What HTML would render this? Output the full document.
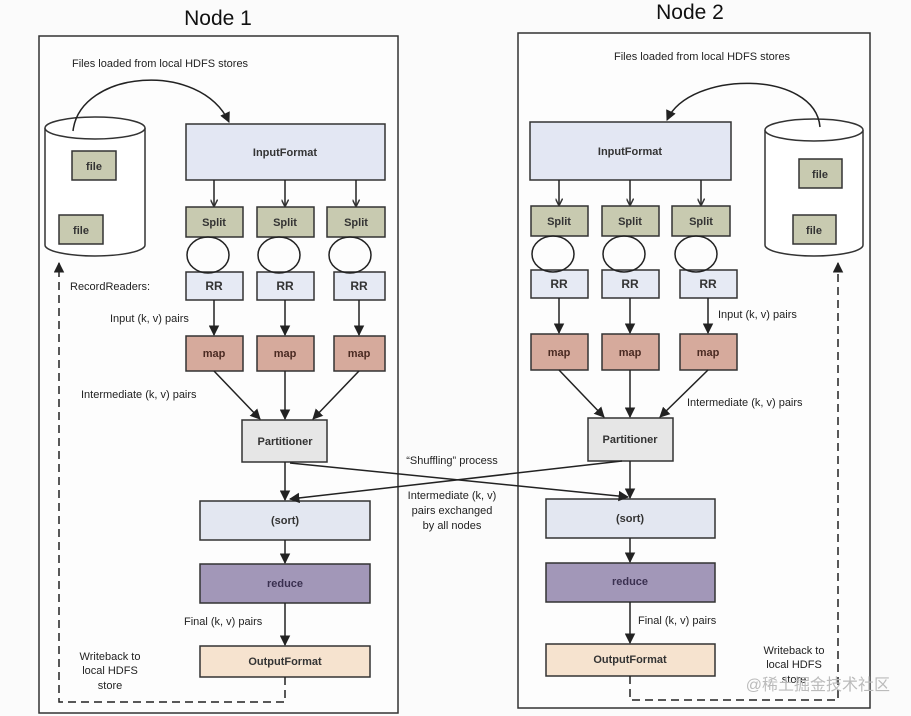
<!DOCTYPE html>
<html><head><meta charset="utf-8"><style>
html,body{margin:0;padding:0;background:#fbfbfb;}
svg{display:block;font-family:"Liberation Sans",sans-serif;}
</style></head><body>
<svg width="911" height="716" viewBox="0 0 911 716" xmlns="http://www.w3.org/2000/svg">
<defs>
<marker id="a" viewBox="0 0 10 10" refX="9" refY="5" markerWidth="7" markerHeight="7" orient="auto-start-reverse"><path d="M0,0 L10,5 L0,10 z" fill="#222"/></marker>
<marker id="s" viewBox="0 0 10 10" refX="9" refY="5" markerWidth="5" markerHeight="5" orient="auto"><path d="M0,0 L10,5 L0,10" fill="none" stroke="#333" stroke-width="2"/></marker>
</defs>
<rect width="911" height="716" fill="#fbfbfb"/>
<text x="218" y="25" font-size="21" text-anchor="middle" fill="#111">Node 1</text>
<text x="690" y="19" font-size="21" text-anchor="middle" fill="#111">Node 2</text>
<rect x="39" y="36" width="359" height="677" fill="#fdfdfd" stroke="#333" stroke-width="1.5"/>
<rect x="518" y="33" width="352" height="675" fill="#fdfdfd" stroke="#333" stroke-width="1.5"/>

<g font-size="11" fill="#222" stroke="none">
<text x="72" y="67">Files loaded from local HDFS stores</text>
<text x="614" y="60">Files loaded from local HDFS stores</text>
<text x="70" y="290">RecordReaders:</text>
<text x="110" y="322">Input (k, v) pairs</text>
<text x="81" y="398">Intermediate (k, v) pairs</text>
<text x="718" y="318">Input (k, v) pairs</text>
<text x="687" y="406">Intermediate (k, v) pairs</text>
<text x="452" y="464" text-anchor="middle">“Shuffling” process</text>
<text x="452" y="499" text-anchor="middle">Intermediate (k, v)</text>
<text x="452" y="514" text-anchor="middle">pairs exchanged</text>
<text x="452" y="529" text-anchor="middle">by all nodes</text>
<text x="184" y="625">Final (k, v) pairs</text>
<text x="638" y="624">Final (k, v) pairs</text>
<text x="110" y="660" text-anchor="middle">Writeback to</text>
<text x="110" y="674" text-anchor="middle">local HDFS</text>
<text x="110" y="689" text-anchor="middle">store</text>
<text x="794" y="654" text-anchor="middle">Writeback to</text>
<text x="794" y="668" text-anchor="middle">local HDFS</text>
<text x="794" y="683" text-anchor="middle">store</text>
</g>

<!-- cylinders -->
<g stroke="#333" stroke-width="1.5" fill="#fff">
<path d="M45,128 L45,245 A50,11 0 0 0 145,245 L145,128"/>
<ellipse cx="95" cy="128" rx="50" ry="11"/>
<path d="M765,130 L765,245 A49,11 0 0 0 863,245 L863,130"/>
<ellipse cx="814" cy="130" rx="49" ry="11"/>
</g>
<g stroke="#333" stroke-width="1.5" fill="#c8cab0" font-size="11" font-weight="bold">
<rect x="72" y="151" width="44" height="29"/><rect x="59" y="215" width="44" height="29"/>
<rect x="799" y="159" width="43" height="29"/><rect x="793" y="215" width="43" height="29"/>
</g>
<g font-size="11" font-weight="bold" fill="#333" text-anchor="middle">
<text x="94" y="170">file</text><text x="81" y="234">file</text>
<text x="820" y="178">file</text><text x="814" y="234">file</text>
</g>
<!-- arcs -->
<g fill="none" stroke="#222" stroke-width="1.5">
<path d="M73,131 C80,70 200,60 229,122" marker-end="url(#a)"/>
<path d="M820,127 C815,70 690,70 667,120" marker-end="url(#a)"/>
</g>

<!-- boxes -->
<g stroke="#333" stroke-width="1.5">
<rect x="186" y="124" width="199" height="56" fill="#e3e7f3"/>
<rect x="530" y="122" width="201" height="58" fill="#e3e7f3"/>
<g fill="#c8cab0">
<rect x="186" y="207" width="57" height="30"/><rect x="257" y="207" width="57" height="30"/><rect x="327" y="207" width="58" height="30"/>
<rect x="531" y="206" width="57" height="30"/><rect x="602" y="206" width="57" height="30"/><rect x="672" y="206" width="58" height="30"/>
</g>
<g fill="#e6eaf4">
<rect x="186" y="272" width="57" height="28"/><rect x="257" y="272" width="57" height="28"/><rect x="334" y="272" width="51" height="28"/>
<rect x="531" y="270" width="57" height="28"/><rect x="602" y="270" width="57" height="28"/><rect x="680" y="270" width="57" height="28"/>
</g>
<g fill="#d6aa9c">
<rect x="186" y="336" width="57" height="35"/><rect x="257" y="336" width="57" height="35"/><rect x="334" y="336" width="51" height="35"/>
<rect x="531" y="334" width="57" height="36"/><rect x="602" y="334" width="57" height="36"/><rect x="680" y="334" width="57" height="36"/>
</g>
<rect x="242" y="420" width="85" height="42" fill="#e6e6e6"/>
<rect x="588" y="418" width="85" height="43" fill="#e6e6e6"/>
<rect x="200" y="501" width="170" height="39" fill="#e3e7f1"/>
<rect x="546" y="499" width="169" height="39" fill="#e3e7f1"/>
<rect x="200" y="564" width="170" height="39" fill="#a297b8"/>
<rect x="546" y="563" width="169" height="39" fill="#a297b8"/>
<rect x="200" y="646" width="170" height="31" fill="#f6e3cf"/>
<rect x="546" y="644" width="169" height="32" fill="#f6e3cf"/>
</g>
<g font-size="11" font-weight="bold" fill="#333" text-anchor="middle">
<text x="285" y="156">InputFormat</text><text x="630" y="155">InputFormat</text>
<text x="214" y="226">Split</text><text x="285" y="226">Split</text><text x="356" y="226">Split</text>
<text x="559" y="225">Split</text><text x="630" y="225">Split</text><text x="701" y="225">Split</text>
<text x="214" y="290" font-size="12">RR</text><text x="285" y="290" font-size="12">RR</text><text x="359" y="290" font-size="12">RR</text>
<text x="559" y="288" font-size="12">RR</text><text x="630" y="288" font-size="12">RR</text><text x="708" y="288" font-size="12">RR</text>
<g fill="#4a2a22"><text x="214" y="357">map</text><text x="285" y="357">map</text><text x="359" y="357">map</text>
<text x="559" y="356">map</text><text x="630" y="356">map</text><text x="708" y="356">map</text></g>
<text x="285" y="445">Partitioner</text><text x="630" y="443">Partitioner</text>
<text x="285" y="524">(sort)</text><text x="630" y="522">(sort)</text>
<g fill="#3a3050"><text x="285" y="587">reduce</text><text x="630" y="585">reduce</text></g>
<text x="285" y="665">OutputFormat</text><text x="630" y="663">OutputFormat</text>
</g>

<!-- arrows -->
<g stroke="#222" stroke-width="1.5" fill="none">
<g marker-end="url(#s)">
<line x1="214" y1="180" x2="214" y2="206"/><line x1="285" y1="180" x2="285" y2="206"/><line x1="356" y1="180" x2="356" y2="206"/>
<line x1="559" y1="180" x2="559" y2="205"/><line x1="630" y1="180" x2="630" y2="205"/><line x1="701" y1="180" x2="701" y2="205"/>
</g>
<g>
<ellipse cx="208" cy="255" rx="21" ry="18"/><ellipse cx="279" cy="255" rx="21" ry="18"/><ellipse cx="350" cy="255" rx="21" ry="18"/>
<ellipse cx="553" cy="254" rx="21" ry="18"/><ellipse cx="624" cy="254" rx="21" ry="18"/><ellipse cx="696" cy="254" rx="21" ry="18"/>
</g>
<g marker-end="url(#a)">
<line x1="214" y1="300" x2="214" y2="335"/><line x1="285" y1="300" x2="285" y2="335"/><line x1="359" y1="300" x2="359" y2="335"/>
<line x1="559" y1="298" x2="559" y2="333"/><line x1="630" y1="298" x2="630" y2="333"/><line x1="708" y1="298" x2="708" y2="333"/>
<line x1="214" y1="371" x2="260" y2="419"/><line x1="285" y1="371" x2="285" y2="419"/><line x1="359" y1="371" x2="313" y2="419"/>
<line x1="559" y1="370" x2="604" y2="417"/><line x1="630" y1="370" x2="630" y2="417"/><line x1="708" y1="370" x2="660" y2="417"/>
<line x1="285" y1="462" x2="285" y2="500"/><line x1="630" y1="461" x2="630" y2="498"/>
<line x1="290" y1="463" x2="628" y2="497"/><line x1="622" y1="461" x2="290" y2="499"/>
<line x1="285" y1="540" x2="285" y2="563"/><line x1="630" y1="538" x2="630" y2="562"/>
<line x1="285" y1="603" x2="285" y2="645"/><line x1="630" y1="602" x2="630" y2="643"/>
</g>
<g stroke-dasharray="8,5">
<path d="M285,677 L285,702 L59,702 L59,263" marker-end="url(#a)"/>
<path d="M630,676 L630,700 L838,700 L838,263" marker-end="url(#a)"/>
</g>
</g>
<text x="890" y="690" font-size="16" fill="#bbb" text-anchor="end" font-family="'Liberation Sans','Noto Sans CJK SC',sans-serif">@稀土掘金技术社区</text>
</svg>
</body></html>
